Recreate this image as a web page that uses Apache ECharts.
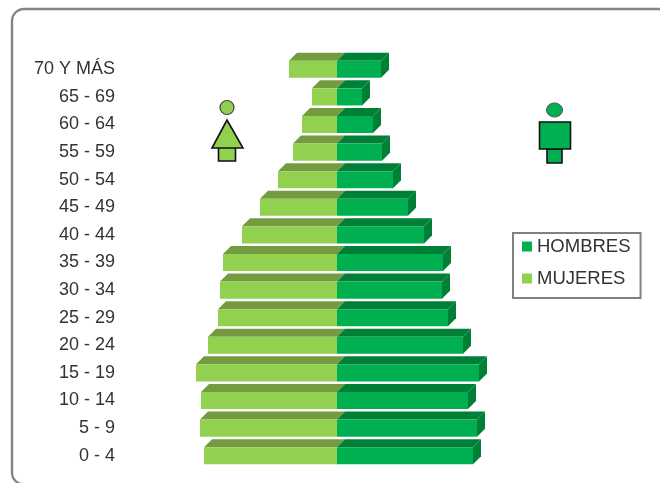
<!DOCTYPE html>
<html><head><meta charset="utf-8">
<script src="https://cdn.jsdelivr.net/npm/echarts@6/dist/echarts.min.js"></script>
<style>html,body{margin:0;background:#fff}#c{width:660px;height:483px;filter:blur(0.6px)}</style>
</head><body><div id="c"></div>
<script>
const categories = ['70 Y MÁS','65 - 69','60 - 64','55 - 59','50 - 54','45 - 49','40 - 44','35 - 39','30 - 34','25 - 29','20 - 24','15 - 19','10 - 14','5 - 9','0 - 4'];
const hombres = [2.2,1.25,1.8,2.25,2.8,3.55,4.35,5.3,5.25,5.55,6.3,7.1,6.55,7.0,6.8];
const mujeres = [2.4,1.25,1.75,2.2,2.95,3.85,4.75,5.7,5.85,5.95,6.45,7.05,6.8,6.85,6.65];

const FRONT_M='#00B050', TOP_M='#007F37', FRONT_F='#92D050', TOP_F='#749B40';
const DEPTH=8;

function render3d(front, top, sign){
  return function(params, api){
    const idx=api.value(0), v=api.value(1);
    const c0=api.coord([0,idx]), c1=api.coord([sign*v,idx]);
    const h=api.size([0,1])[1]*0.62;
    const y0=c0[1]-h/2, y1=c0[1]+h/2;
    const x0=c0[0], x1=c1[0];
    const children=[
      {type:'polygon',shape:{points:[[x0,y0],[x1,y0],[x1+DEPTH,y0-DEPTH],[x0+DEPTH,y0-DEPTH]]},style:{fill:top}},
      {type:'rect',shape:{x:Math.min(x0,x1),y:y0,width:Math.abs(x1-x0),height:h},style:{fill:front}}
    ];
    if(sign>0) children.push({type:'polygon',shape:{points:[[x1,y0],[x1+DEPTH,y0-DEPTH],[x1+DEPTH,y1-DEPTH],[x1,y1]]},style:{fill:top}});
    return {type:'group',children};
  };
}
function toData(arr){return arr.map((v,i)=>[i,v]);}

const chart=echarts.init(document.getElementById('c'),null,{renderer:'canvas'});
const ink={stroke:'#111',lineWidth:1.6};
chart.setOption({
  animation:false,
  backgroundColor:'#fff',
  grid:{left:177,width:320,top:55.5,height:414},
  xAxis:{type:'value',min:-8,max:8,show:false},
  yAxis:{type:'category',inverse:true,data:categories,
    axisLine:{show:false},axisTick:{show:false},
    axisLabel:{margin:62,color:'#333',fontFamily:'Liberation Sans',fontSize:18,align:'right',padding:[2,0,0,0]}},
  legend:{orient:'vertical',left:513,top:233,
    padding:[4,10,10,9],itemGap:13,itemWidth:10,itemHeight:10,icon:'rect',
    borderColor:'#808080',borderWidth:2,backgroundColor:'#fff',
    textStyle:{color:'#333',fontFamily:'Liberation Sans',fontSize:18.5},
    data:['HOMBRES','MUJERES']},
  series:[
    {name:'MUJERES',type:'custom',coordinateSystem:'cartesian2d',renderItem:render3d(FRONT_F,TOP_F,-1),
     encode:{x:1,y:0},data:toData(mujeres),itemStyle:{color:FRONT_F},z:2},
    {name:'HOMBRES',type:'custom',coordinateSystem:'cartesian2d',renderItem:render3d(FRONT_M,TOP_M,1),
     encode:{x:1,y:0},data:toData(hombres),itemStyle:{color:FRONT_M},z:3}
  ],
  graphic:[
    {type:'rect',shape:{x:12,y:9,width:680,height:475.5,r:12},style:{fill:'none',stroke:'#858585',lineWidth:2.4},silent:true,z:-1},
    {type:'circle',shape:{cx:227,cy:107.5,r:7},style:{fill:FRONT_F,stroke:'#444',lineWidth:1.2}},
    {type:'rect',shape:{x:218.5,y:147,width:17,height:14},style:{fill:FRONT_F,...ink}},
    {type:'polygon',shape:{points:[[227,120],[243,148],[212,148]]},style:{fill:FRONT_F,...ink}},
    {type:'ellipse',shape:{cx:554.5,cy:110,rx:8,ry:7},style:{fill:FRONT_M,stroke:'#555',lineWidth:1}},
    {type:'rect',shape:{x:547,y:149,width:15,height:14},style:{fill:FRONT_M,...ink}},
    {type:'rect',shape:{x:539.5,y:122,width:31,height:27},style:{fill:FRONT_M,...ink}}
  ]
});
</script></body></html>
